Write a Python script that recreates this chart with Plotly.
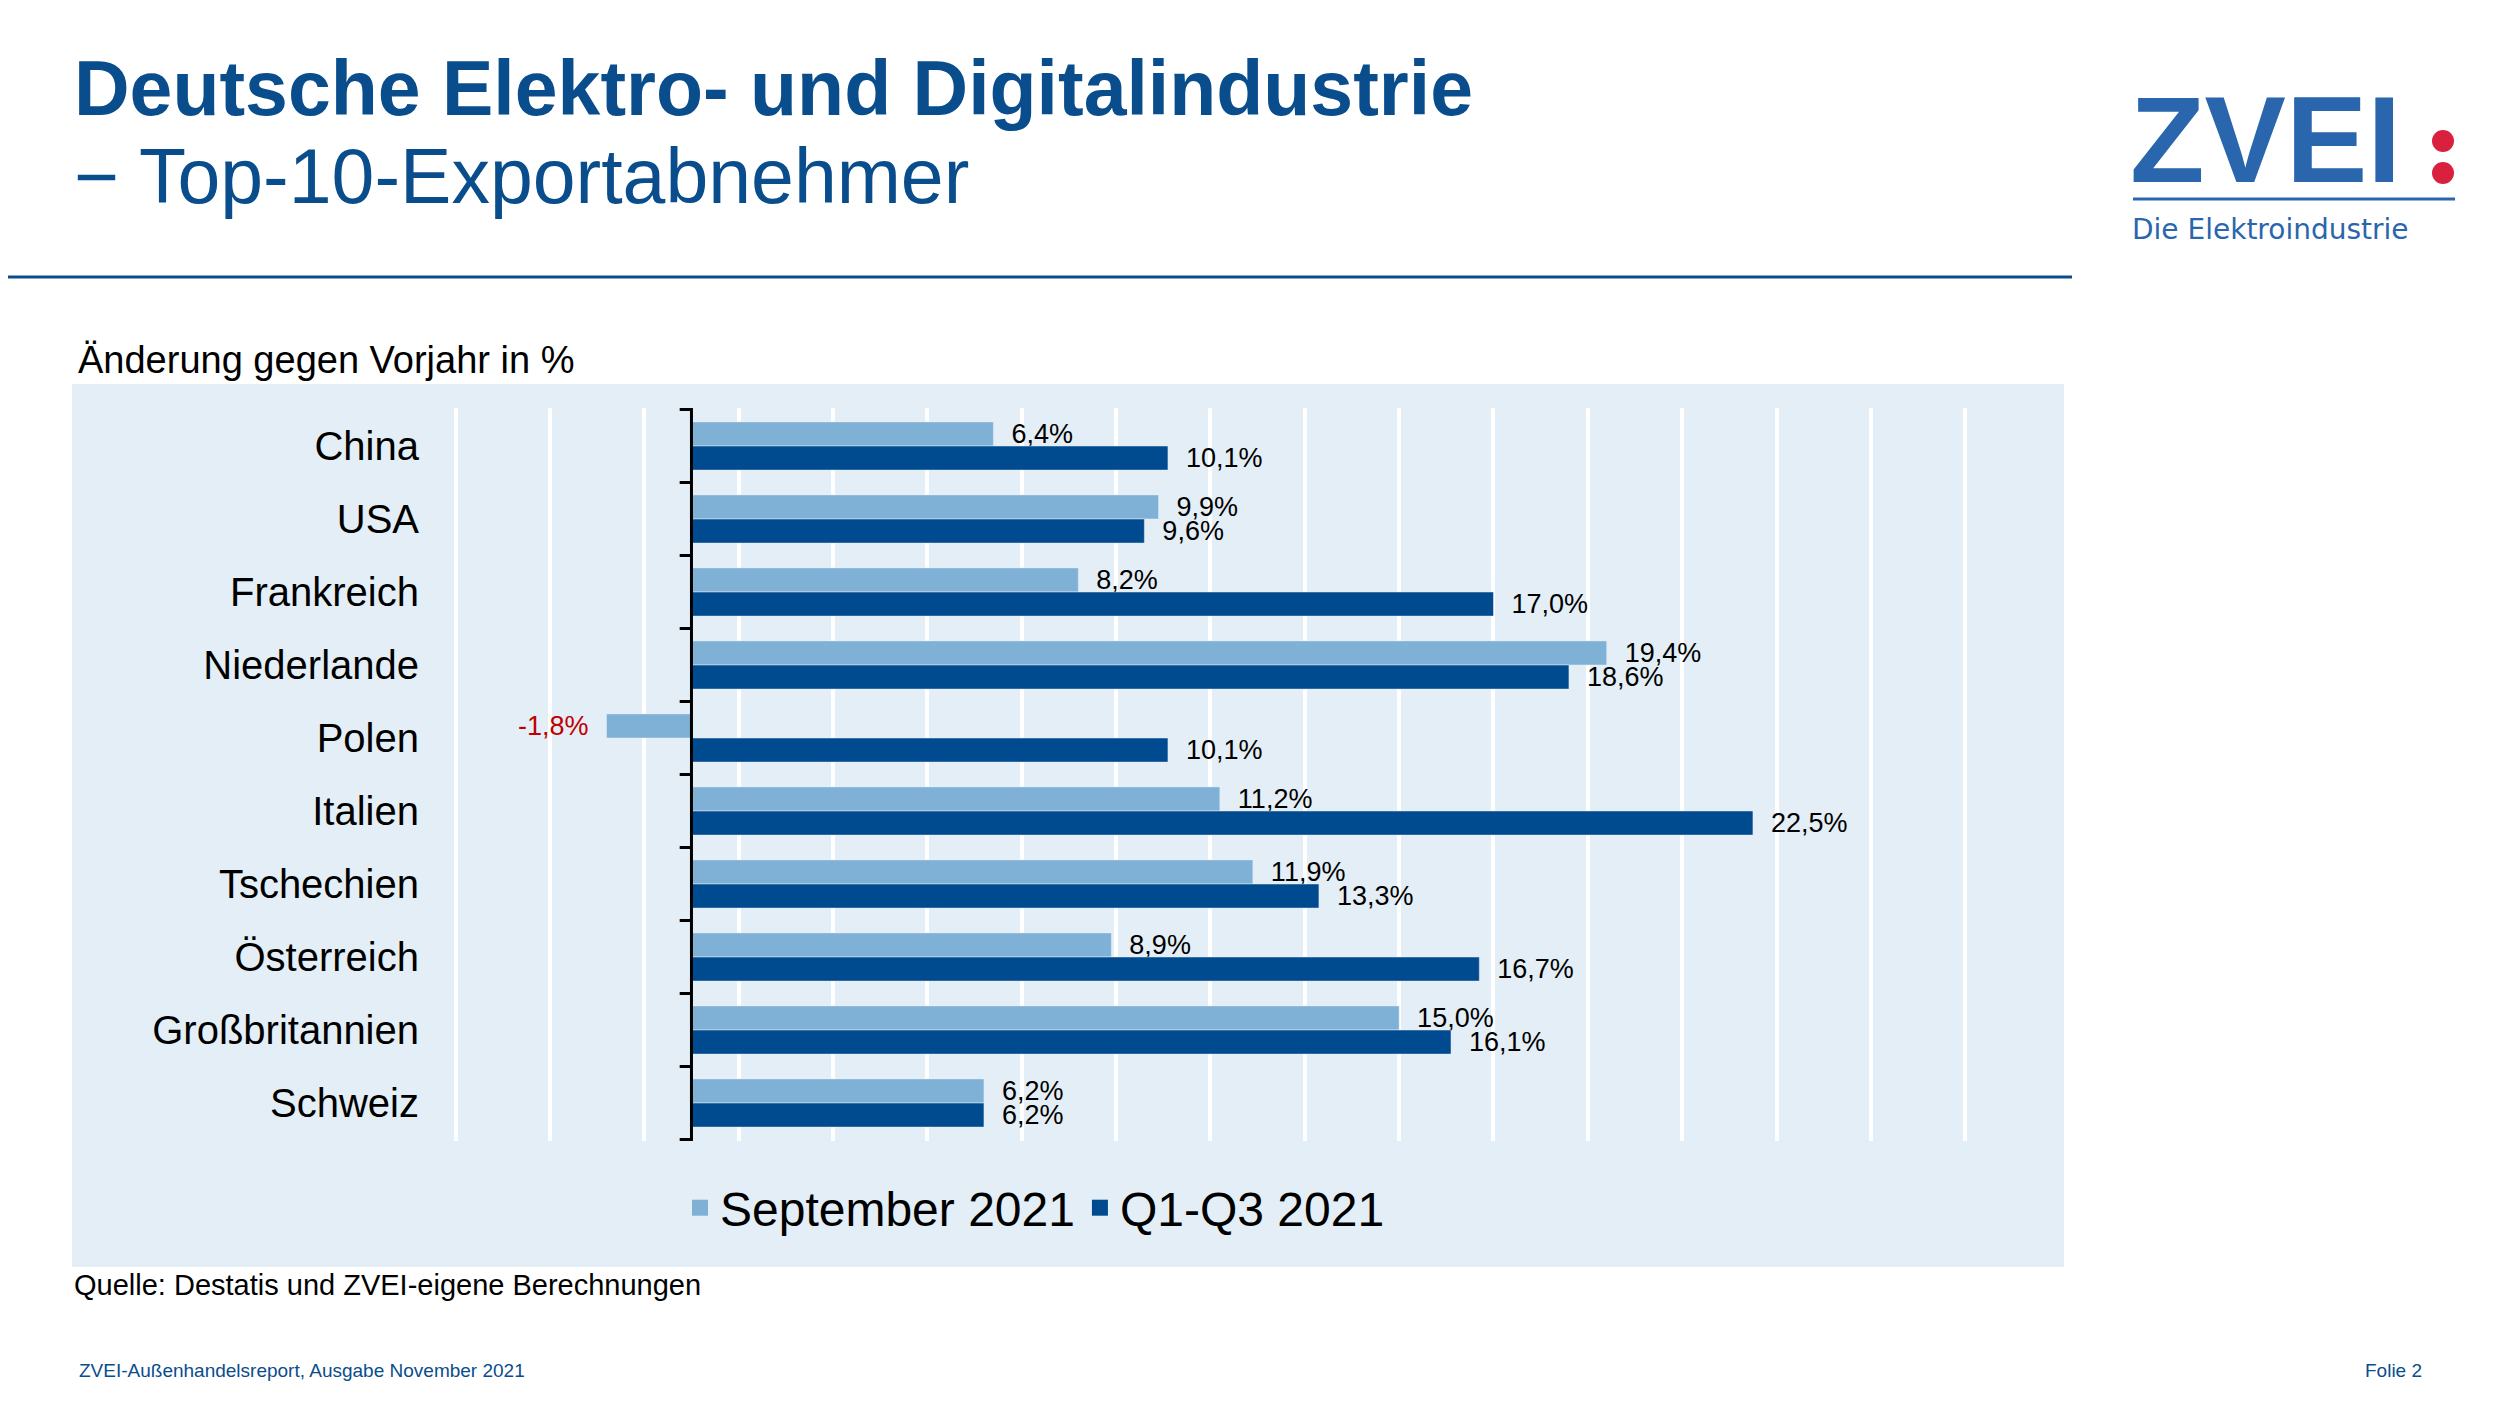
import plotly.graph_objects as go

countries = ['China', 'USA', 'Frankreich', 'Niederlande', 'Polen', 'Italien',
             'Tschechien', 'Österreich', 'Großbritannien', 'Schweiz']
sep_2021 = [6.4, 9.9, 8.2, 19.4, -1.8, 11.2, 11.9, 8.9, 15.0, 6.2]
q1_q3_2021 = [10.1, 9.6, 17.0, 18.6, 10.1, 22.5, 13.3, 16.7, 16.1, 6.2]
series_names = ['September 2021', 'Q1-Q3 2021']

LIGHT = '#7fb0d6'
DARK = '#004a8f'
TITLE_BLUE = '#0a4d8c'
LOGO_BLUE = '#2a66ad'
FONT = 'Liberation Sans, Arial, sans-serif'
W, H = 2500, 1407
OFF = 8  # page body margin


def fmt(v):
    s = f"{v:.1f}".replace('.', ',') + '%'
    return s + '  ' if v < 0 else '  ' + s


def px(x):
    return (x - OFF) / W


def py(y):
    return 1 - (y - OFF) / H


fig = go.Figure()
for name, vals, col in [(series_names[0], sep_2021, LIGHT), (series_names[1], q1_q3_2021, DARK)]:
    fig.add_trace(go.Bar(
        name=name, y=countries, x=vals, orientation='h',
        marker={'color': col},
        text=[fmt(v) for v in vals],
        textposition='outside',
        constraintext='none',
        cliponaxis=False,
        showlegend=False,
        textfont={'size': 27, 'color': ['#c00000' if v < 0 else 'black' for v in vals], 'family': FONT},
    ))
    # legend entry with a bigger square
    fig.add_trace(go.Scatter(
        name=name, x=[None], y=[None], mode='markers',
        marker={'symbol': 'square', 'size': 27, 'color': col},
    ))

shapes = [dict(type='rect', xref='paper', yref='paper', x0=px(72), x1=px(2064),
               y0=py(1267), y1=py(384), fillcolor='#e4eef6', line={'width': 0}, layer='below')]
# zero axis line plus ticks between categories
shapes.append(dict(type='line', xref='x', yref='paper', x0=0, x1=0, y0=py(1141), y1=py(408),
                   line={'color': 'black', 'width': 3}))
for i in range(len(countries) + 1):
    shapes.append(dict(type='line', xref='x', yref='y', x0=-0.25, x1=0, y0=i - 0.5, y1=i - 0.5,
                       line={'color': 'black', 'width': 3}))
# header rule
shapes.append(dict(type='line', xref='paper', yref='paper', x0=px(-10), x1=px(2072),
                   y0=py(277), y1=py(277), line={'color': TITLE_BLUE, 'width': 3}))
# logo rule and red dots
shapes.append(dict(type='line', xref='paper', yref='paper', x0=px(2133), x1=px(2455),
                   y0=py(199), y1=py(199), line={'color': LOGO_BLUE, 'width': 3}))
for cy in (141, 173):
    shapes.append(dict(type='circle', xref='paper', yref='paper', x0=px(2432), x1=px(2454),
                       y0=py(cy + 11), y1=py(cy - 11), fillcolor='#d9203f', line={'width': 0}))


def ann(text, x, y, size, color='black', xanchor='left', yanchor='middle', bold=False, family=FONT):
    return dict(text=f'<b>{text}</b>' if bold else text, xref='paper', yref='paper',
                x=px(x), y=py(y), xanchor=xanchor, yanchor=yanchor, showarrow=False,
                font={'size': size, 'color': color, 'family': family})


annotations = [
    ann('Deutsche Elektro- und Digitalindustrie', 72, 88, 77, TITLE_BLUE, bold=True),
    ann('− Top-10-Exportabnehmer', 72, 176, 77, TITLE_BLUE),
    ann('Änderung gegen Vorjahr in %', 76, 360, 38),
    ann('Quelle: Destatis und ZVEI-eigene Berechnungen', 72, 1285, 29),
    ann('ZVEI-Außenhandelsreport, Ausgabe November 2021', 77, 1370, 19, TITLE_BLUE),
    ann('Folie 2', 2424, 1370, 19, TITLE_BLUE, xanchor='right'),
    ann('ZVEI', 2128, 140, 122, LOGO_BLUE, bold=True),
    ann('Die Elektroindustrie', 2130, 230, 28, LOGO_BLUE, family='DejaVu Sans'),
]

fig.update_layout(
    width=W, height=H,
    margin={'l': 0, 'r': 0, 't': 0, 'b': 0},
    paper_bgcolor='white', plot_bgcolor='rgba(0,0,0,0)',
    font={'family': FONT, 'color': 'black'},
    barmode='group', bargap=0.34, bargroupgap=0,
    xaxis={'domain': [px(432), px(2036)], 'range': [-5.5, 28.5], 'tick0': -5, 'dtick': 2,
           'showticklabels': False, 'showgrid': True, 'gridcolor': 'white', 'gridwidth': 4,
           'zeroline': False},
    yaxis={'domain': [py(1141), py(408)], 'autorange': 'reversed', 'showgrid': False,
           'tickfont': {'size': 40}, 'ticks': '', 'ticklabelstandoff': 12},
    legend={'orientation': 'h', 'x': px(680), 'y': py(1208), 'xanchor': 'left',
            'yanchor': 'middle', 'font': {'size': 48}, 'bgcolor': 'rgba(0,0,0,0)',
            'itemwidth': 30, 'itemsizing': 'trace'},
    shapes=shapes, annotations=annotations,
)

fig.write_html('out.html')
